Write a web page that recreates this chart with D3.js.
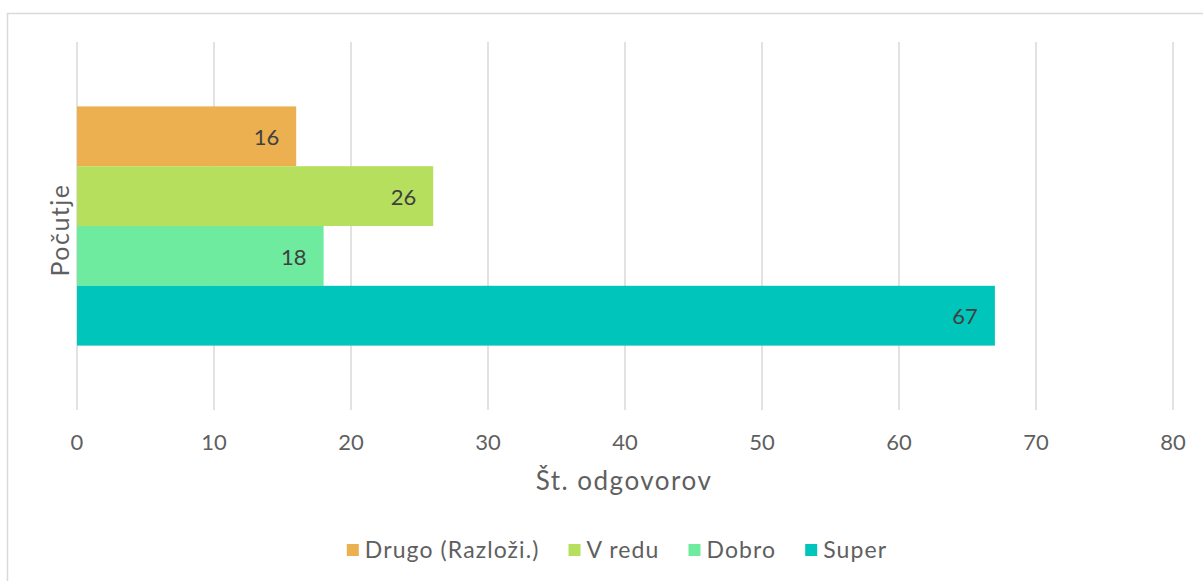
<!DOCTYPE html>
<html>
<head>
<meta charset="utf-8">
<script src="https://cdn.jsdelivr.net/npm/d3@7"></script>
<style>
  html, body { margin: 0; padding: 0; background: #fff; }
  body { width: 1203px; height: 581px; overflow: hidden; }
  text { font-family: "Lato", "Open Sans", sans-serif; }
</style>
</head>
<body>
<div id="chart"></div>
<script>
// data
const categories = ["Počutje"];
const seriesNames = ["Drugo (Razloži.)", "V redu", "Dobro", "Super"];
const seriesValues = [16, 26, 18, 67];
const seriesColors = ["#EDB050", "#B6DF5E", "#6EEB9F", "#00C5BB"];
const xTicks = [0, 10, 20, 30, 40, 50, 60, 70, 80];
const xTitle = "Št. odgovorov";

const W = 1203, H = 581;
const plot = { left: 77, right: 1173, top: 42, bottom: 410 };
const textColor = "#5f5f5f";

const svg = d3.select("#chart").append("svg")
  .attr("width", W).attr("height", H);

// chart border (runs past the window on the right and bottom)
svg.append("rect")
  .attr("x", 7.5).attr("y", 13.5)
  .attr("width", 1250).attr("height", 620)
  .attr("fill", "#fff")
  .attr("stroke", "#d9d9d9").attr("stroke-width", 1.5);

const x = d3.scaleLinear().domain([0, 80]).range([plot.left, plot.right]);

const y0 = d3.scaleBand().domain(categories)
  .range([plot.top, plot.bottom])
  .paddingInner(0.35).paddingOuter(0.175);

const y1 = d3.scaleBand().domain(seriesNames)
  .range([0, y0.bandwidth()]).padding(0);

// gridlines
svg.append("g")
  .selectAll("line")
  .data(xTicks)
  .join("line")
  .attr("x1", d => x(d)).attr("x2", d => x(d))
  .attr("y1", plot.top).attr("y2", plot.bottom)
  .attr("stroke", "#d9d9d9").attr("stroke-width", 1.5);

// tick labels
svg.append("g")
  .selectAll("text")
  .data(xTicks)
  .join("text")
  .attr("x", d => x(d)).attr("y", 442)
  .attr("dy", "0.35em")
  .attr("text-anchor", "middle")
  .attr("font-size", 22)
  .attr("fill", textColor)
  .text(d => d);

// bars
const rows = seriesNames.map((name, i) => ({ name, value: seriesValues[i], color: seriesColors[i], cat: categories[0] }));

const g = svg.append("g");
g.selectAll("rect")
  .data(rows)
  .join("rect")
  .attr("x", x(0))
  .attr("y", d => y0(d.cat) + y1(d.name))
  .attr("width", d => x(d.value) - x(0))
  .attr("height", y1.bandwidth())
  .attr("fill", d => d.color);

g.selectAll("text")
  .data(rows)
  .join("text")
  .attr("x", d => x(d.value) - 17)
  .attr("y", d => y0(d.cat) + y1(d.name) + y1.bandwidth() / 2 + 1)
  .attr("dy", "0.35em")
  .attr("text-anchor", "end")
  .attr("font-size", 22)
  .attr("fill", "#404040")
  .text(d => d.value);

// axis titles
svg.append("text")
  .attr("x", 624).attr("y", 481)
  .attr("dy", "0.35em")
  .attr("text-anchor", "middle")
  .attr("font-size", 26)
  .attr("letter-spacing", 1.5)
  .attr("fill", textColor)
  .text(xTitle);

svg.append("text")
  .attr("transform", `translate(60,${(plot.top + plot.bottom) / 2 + 4}) rotate(-90)`)
  .attr("dy", "0.35em")
  .attr("text-anchor", "middle")
  .attr("font-size", 25)
  .attr("letter-spacing", 1.5)
  .attr("fill", textColor)
  .text(categories[0]);

// legend
const legend = svg.append("g");
const items = legend.selectAll("g")
  .data(rows)
  .join("g");
items.append("rect")
  .attr("width", 12).attr("height", 12)
  .attr("y", -6)
  .attr("fill", d => d.color);
items.append("text")
  .attr("x", 18)
  .attr("dy", "0.35em")
  .attr("font-size", 23)
  .attr("letter-spacing", 1.1)
  .attr("fill", textColor)
  .text(d => d.name);

// lay out legend centred
let offset = 0;
const gap = 29;
items.each(function () {
  const w = this.getBBox().width;
  d3.select(this).attr("data-x", offset);
  offset += w + gap;
});
const total = offset - gap;
const startX = 617 - total / 2;
items.attr("transform", function () {
  return `translate(${startX + (+this.getAttribute("data-x"))},550)`;
});
</script>
</body>
</html>
